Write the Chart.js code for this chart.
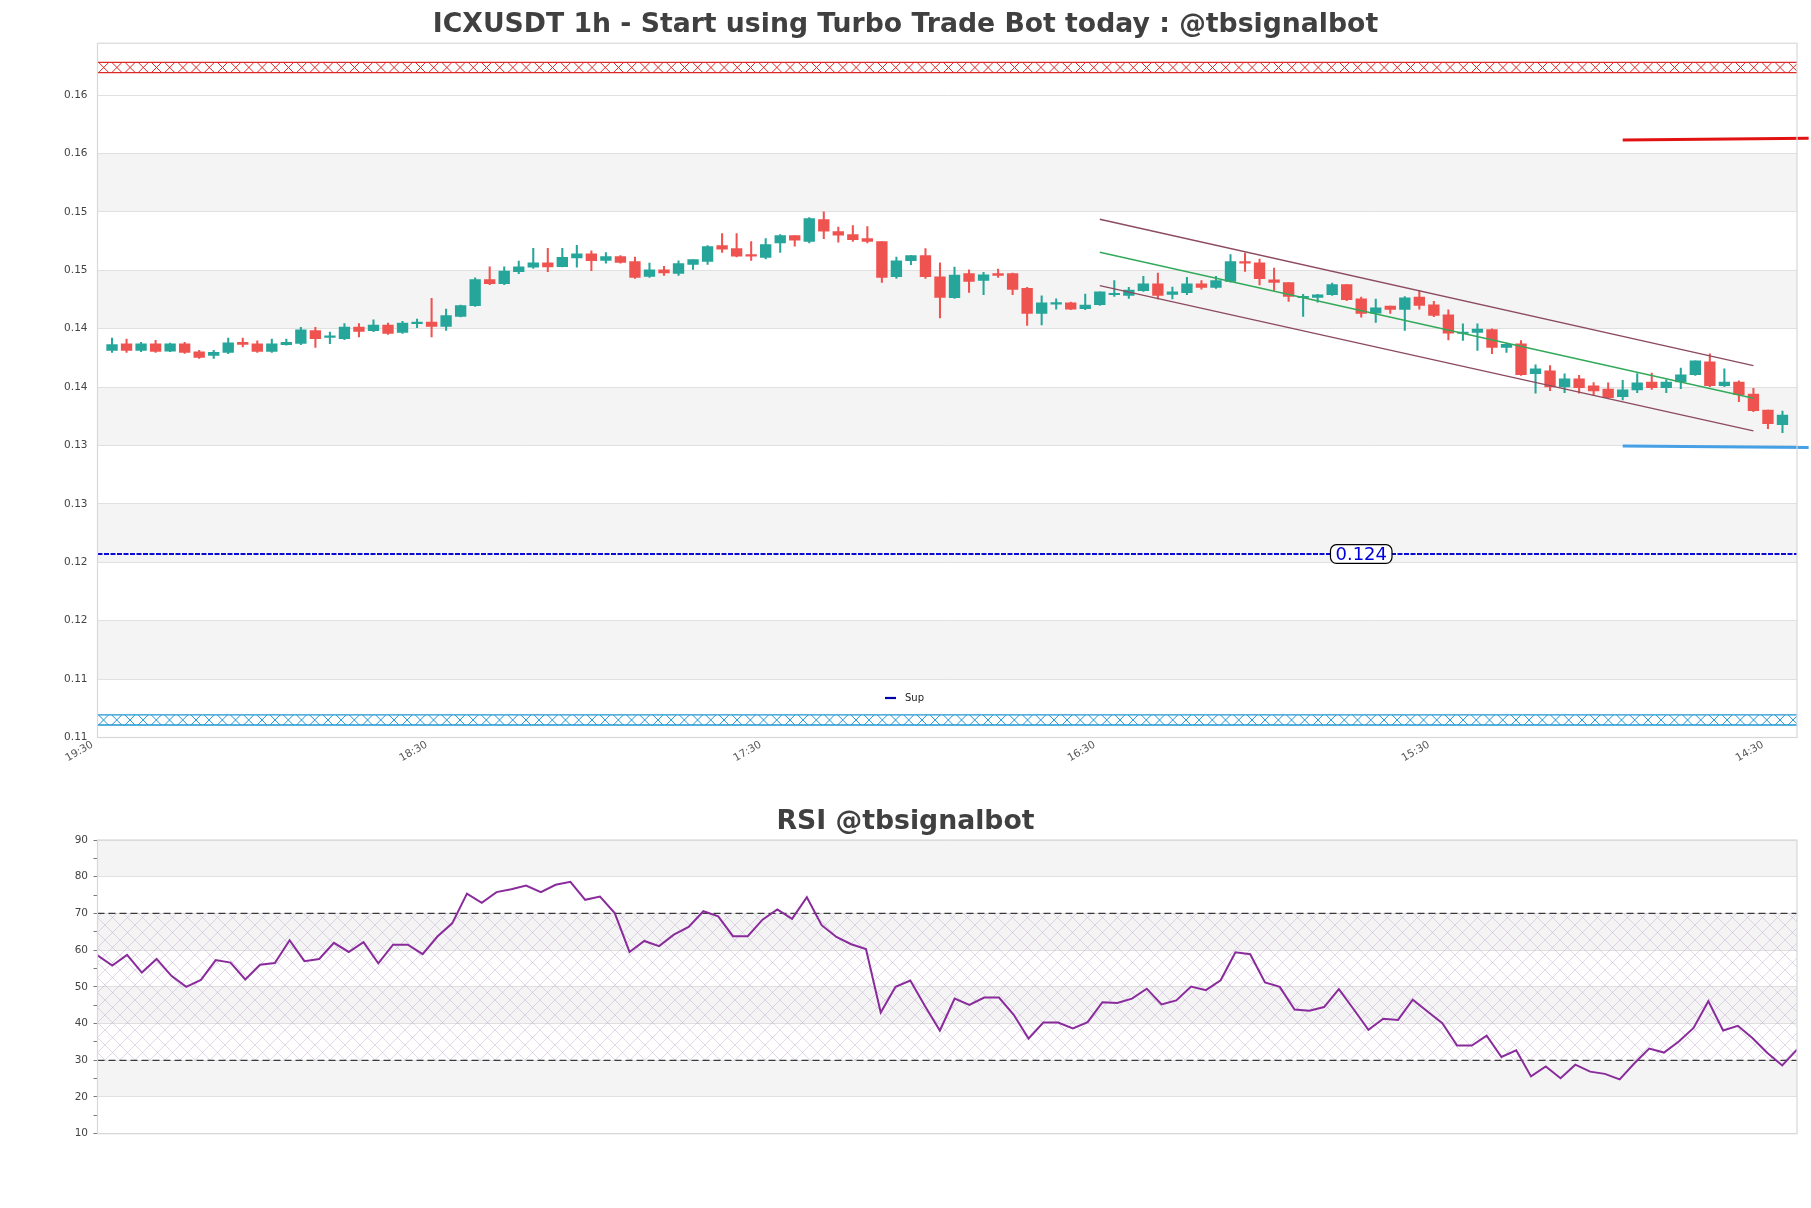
<!DOCTYPE html>
<html><head><meta charset="utf-8">
<script src="https://cdn.jsdelivr.net/npm/chart.js@4.4.0/dist/chart.umd.min.js"></script>
<style>
html,body{margin:0;padding:0;background:#fff;}
#w1{position:absolute;left:0;top:0;width:1811px;height:790px;}
#w2{position:absolute;left:0;top:790px;width:1811px;height:418px;}
</style></head><body>
<div id="w1"><canvas id="c1"></canvas></div>
<div id="w2"><canvas id="c2"></canvas></div>
<script>
// ---------- DATA ----------
const timeLabels = ['19:30','18:30','17:30','16:30','15:30','14:30'];
const timeTickPos = [-1, 22, 45, 68, 91, 114];
const priceTicks = [0.108,0.113,0.118,0.123,0.128,0.133,0.138,0.143,0.148,0.153,0.158,0.163];
const priceTickLabels = ['0.11','0.11','0.12','0.12','0.13','0.13','0.14','0.14','0.15','0.15','0.16','0.16'];
const priceRange = [0.108, 0.16744];
const xRange = [-1, 116];

const open = [0.14114,0.14171,0.14114,0.14171,0.14108,0.14171,0.14103,0.14071,0.14097,0.14183,
0.14171,0.14106,0.14163,0.14174,0.14283,0.14226,0.14214,0.14314,0.14283,0.14331,
0.14269,0.14343,0.14357,0.14320,0.14406,0.14497,0.14720,0.14686,0.14789,0.14826,
0.14863,0.14831,0.14906,0.14940,0.14885,0.14917,0.14874,0.14748,0.14805,0.14774,
0.14851,0.14877,0.15011,0.14985,0.14934,0.14911,0.15034,0.15097,0.15048,0.15234,
0.15131,0.15106,0.15071,0.15045,0.14745,0.14882,0.14925,0.14745,0.14565,0.14771,
0.14714,0.14771,0.14771,0.14645,0.14431,0.14511,0.14522,0.14471,0.14505,0.14591,
0.14585,0.14625,0.14685,0.14594,0.14608,0.14685,0.14654,0.14705,0.14874,0.14865,
0.14719,0.14694,0.14565,0.14568,0.14591,0.14677,0.14556,0.14433,0.14493,0.14465,
0.14571,0.14505,0.14419,0.14259,0.14268,0.14293,0.14139,0.14170,0.13916,0.13939,
0.13801,0.13870,0.13810,0.13784,0.13718,0.13776,0.13844,0.13796,0.13844,0.13907,
0.14016,0.13813,0.13844,0.13741,0.13604,0.13478];
const high = [0.14220,0.14211,0.14183,0.14200,0.14177,0.14183,0.14114,0.14114,0.14220,0.14220,
0.14197,0.14211,0.14211,0.14311,0.14311,0.14271,0.14343,0.14343,0.14377,0.14349,
0.14363,0.14383,0.14560,0.14469,0.14503,0.14735,0.14829,0.14829,0.14880,0.14989,
0.14989,0.14989,0.15014,0.14966,0.14951,0.14926,0.14914,0.14862,0.14834,0.14882,
0.14891,0.15011,0.15114,0.15114,0.15045,0.15071,0.15106,0.15097,0.15251,0.15300,
0.15171,0.15183,0.15174,0.15045,0.14914,0.14925,0.14985,0.14865,0.14828,0.14805,
0.14782,0.14811,0.14777,0.14654,0.14582,0.14556,0.14528,0.14596,0.14616,0.14711,
0.14654,0.14748,0.14777,0.14657,0.14739,0.14711,0.14748,0.14934,0.14948,0.14897,
0.14820,0.14694,0.14594,0.14594,0.14691,0.14677,0.14571,0.14554,0.14493,0.14576,
0.14628,0.14534,0.14462,0.14342,0.14342,0.14299,0.14176,0.14199,0.13990,0.13984,
0.13913,0.13901,0.13839,0.13836,0.13859,0.13916,0.13919,0.13862,0.13962,0.14024,
0.14085,0.13956,0.13853,0.13790,0.13604,0.13595];
const low = [0.14097,0.14097,0.14103,0.14097,0.14103,0.14088,0.14046,0.14046,0.14086,0.14143,
0.14097,0.14097,0.14160,0.14163,0.14140,0.14171,0.14206,0.14229,0.14274,0.14251,
0.14260,0.14309,0.14229,0.14286,0.14400,0.14491,0.14677,0.14677,0.14771,0.14817,
0.14789,0.14829,0.14826,0.14797,0.14862,0.14862,0.14731,0.14739,0.14757,0.14757,
0.14808,0.14851,0.14954,0.14914,0.14885,0.14897,0.14954,0.15006,0.15034,0.15071,
0.15040,0.15048,0.15034,0.14697,0.14731,0.14848,0.14731,0.14393,0.14559,0.14611,
0.14591,0.14739,0.14591,0.14328,0.14333,0.14468,0.14462,0.14462,0.14499,0.14576,
0.14559,0.14619,0.14556,0.14556,0.14591,0.14639,0.14645,0.14699,0.14791,0.14674,
0.14628,0.14534,0.14405,0.14528,0.14585,0.14539,0.14399,0.14353,0.14431,0.14285,
0.14468,0.14402,0.14205,0.14199,0.14113,0.14087,0.14096,0.13899,0.13747,0.13770,
0.13753,0.13747,0.13727,0.13701,0.13690,0.13753,0.13781,0.13753,0.13787,0.13901,
0.13804,0.13804,0.13676,0.13590,0.13444,0.13410];
const close = [0.14163,0.14114,0.14171,0.14106,0.14171,0.14097,0.14054,0.14097,0.14180,0.14166,
0.14106,0.14171,0.14183,0.14291,0.14214,0.14234,0.14314,0.14277,0.14331,0.14260,
0.14349,0.14351,0.14320,0.14412,0.14497,0.14720,0.14686,0.14794,0.14829,0.14863,
0.14829,0.14911,0.14940,0.14883,0.14917,0.14868,0.14739,0.14805,0.14777,0.14857,
0.14891,0.15003,0.14980,0.14920,0.14920,0.15020,0.15097,0.15057,0.15243,0.15134,
0.15100,0.15063,0.15048,0.14739,0.14882,0.14925,0.14745,0.14568,0.14759,0.14705,
0.14762,0.14757,0.14636,0.14431,0.14522,0.14522,0.14468,0.14502,0.14616,0.14602,
0.14631,0.14685,0.14585,0.14616,0.14685,0.14654,0.14711,0.14874,0.14862,0.14728,
0.14697,0.14576,0.14576,0.14591,0.14677,0.14548,0.14431,0.14479,0.14465,0.14565,
0.14499,0.14413,0.14262,0.14268,0.14296,0.14139,0.14167,0.13907,0.13956,0.13801,
0.13870,0.13796,0.13767,0.13710,0.13776,0.13836,0.13796,0.13844,0.13904,0.14024,
0.13813,0.13844,0.13736,0.13598,0.13487,0.13561];

const supLevel = 0.12371;
const supLabelAt = 86;
const resZone = [0.16492, 0.16581];
const supZone = [0.10907, 0.10993];
const trendX = [68, 113];
const channelUpper = [0.15237, 0.13984];
const channelMid = [0.14955, 0.13705];
const channelLower = [0.14669, 0.13425];
const resLineX = [104, 116.8];
const resLineY = [0.15916, 0.15931];
const supLineX = [104, 116.8];
const supLineY = [0.13296, 0.13283];

const rsi = [58.6,55.8,58.7,53.9,57.6,53.0,50.0,51.9,57.3,56.6,
52.0,56.0,56.5,62.7,57.0,57.6,62.0,59.5,62.2,56.4,
61.5,61.5,58.9,63.7,67.3,75.4,72.9,75.8,76.6,77.6,
75.8,77.8,78.6,73.7,74.6,70.1,59.5,62.5,61.1,64.2,
66.3,70.6,69.2,63.8,63.8,68.3,71.1,68.5,74.4,66.8,
63.6,61.6,60.3,43.0,50.0,51.7,44.7,38.1,46.8,45.1,
47.1,47.1,42.4,35.9,40.3,40.3,38.7,40.4,45.8,45.6,
46.8,49.5,45.2,46.3,50.1,49.1,51.8,59.4,58.9,51.2,
50.0,43.8,43.5,44.5,49.4,43.9,38.3,41.3,41.0,46.5,
43.3,40.1,34.0,34.0,36.7,30.9,32.7,25.6,28.3,25.1,
28.8,26.9,26.3,24.8,29.2,33.2,32.1,35.1,38.8,46.1,
38.1,39.4,36.0,32.0,28.6,32.9];
const rsiLevels = [70, 30];
const rsiTicks = [10,15,20,25,30,35,40,45,50,55,60,65,70,75,80,85,90];
const rsiGrid = [10,20,30,40,50,60,70,80,90];
const rsiRange = [10, 90];

// ---------- STYLE ----------
Chart.defaults.font.family = "'DejaVu Sans', sans-serif";
Chart.defaults.animation = false;
const UP = 'rgb(38,166,154)', DOWN = 'rgb(239,83,80)';
const GRID = 'rgb(224,224,224)', BAND = '#f4f4f4', FRAME = '#d8d8d8';
const candleColors = close.map((c, i) => c >= open[i] ? UP : DOWN);

function fillBands(chart, ticks) {
  const {ctx, chartArea: a, scales: {y}} = chart;
  ctx.save(); ctx.fillStyle = BAND;
  for (let k = 1; k < ticks.length - 1; k += 2) {
    const y0 = y.getPixelForValue(ticks[k]), y1 = y.getPixelForValue(ticks[k + 1]);
    ctx.fillRect(a.left, y1, a.right - a.left, y0 - y1);
  }
  ctx.restore();
}
function frame(chart) {
  const {ctx, chartArea: a} = chart;
  ctx.save(); ctx.strokeStyle = FRAME; ctx.lineWidth = 1.2;
  ctx.strokeRect(a.left, a.top, a.right - a.left, a.bottom - a.top);
  ctx.restore();
}
function xHatch(ctx, left, right, yTop, yBot, color) {
  const h = yBot - yTop, period = 13.2;
  ctx.save();
  ctx.beginPath(); ctx.rect(left, yTop, right - left, h); ctx.clip();
  ctx.strokeStyle = color; ctx.lineWidth = 1;
  ctx.beginPath();
  for (let x = left + 1; x < right + h; x += period) {
    ctx.moveTo(x, yTop); ctx.lineTo(x + h, yBot);
    ctx.moveTo(x + h, yTop); ctx.lineTo(x, yBot);
  }
  ctx.stroke();
  ctx.restore();
  ctx.save(); ctx.strokeStyle = color; ctx.lineWidth = 1.3;
  ctx.beginPath();
  ctx.moveTo(left, yTop); ctx.lineTo(right, yTop);
  ctx.moveTo(left, yBot); ctx.lineTo(right, yBot);
  ctx.stroke(); ctx.restore();
}
// empty right-hand spacer axis so the title stays centred on the whole canvas
const spacer = (min, max) => ({position: 'right', min, max, display: true,
  grid: {display: false, drawTicks: false}, border: {display: false},
  ticks: {display: false}, afterFit: s => { s.width = 14; }});

const pricePlugin = {
  id: 'priceDecor',
  beforeDraw(chart) { fillBands(chart, priceTicks); },
  beforeDatasetsDraw(chart) {
    const {ctx, chartArea: a, scales: {y}} = chart;
    xHatch(ctx, a.left, a.right, y.getPixelForValue(resZone[1]), y.getPixelForValue(resZone[0]), 'rgb(222,40,40)');
    xHatch(ctx, a.left, a.right, y.getPixelForValue(supZone[1]), y.getPixelForValue(supZone[0]), 'rgb(30,150,210)');
  },
  afterDatasetsDraw(chart) {
    const {ctx, scales: {x, y}} = chart;
    const cx = x.getPixelForValue(supLabelAt), cy = y.getPixelForValue(supLevel);
    const txt = supLevel.toFixed(3);
    ctx.save();
    ctx.font = "18px 'DejaVu Sans'";
    const w = ctx.measureText(txt).width + 10, h = 18.6;
    ctx.beginPath();
    ctx.roundRect(cx - w / 2, cy - h / 2, w, h, 6);
    ctx.fillStyle = '#fff'; ctx.fill();
    ctx.strokeStyle = '#000'; ctx.lineWidth = 1.2; ctx.stroke();
    ctx.fillStyle = 'rgb(0,0,220)'; ctx.textAlign = 'center'; ctx.textBaseline = 'middle';
    ctx.fillText(txt, cx, cy + 1);
    const lx = chart.width / 2 - 20.5, ly = 698;
    ctx.strokeStyle = 'rgb(0,0,170)'; ctx.lineWidth = 2.2;
    ctx.beginPath(); ctx.moveTo(lx, ly); ctx.lineTo(lx + 11, ly); ctx.stroke();
    ctx.font = "10px 'DejaVu Sans'"; ctx.fillStyle = '#222'; ctx.textAlign = 'left';
    ctx.fillText('Sup', lx + 20, ly);
    ctx.restore();
  },
  afterDraw(chart) { frame(chart); }
};

const pt = (xs, ys) => xs.map((v, i) => ({x: v, y: ys[i]}));

new Chart(document.getElementById('c1'), {
  type: 'bar',
  data: {
    datasets: [
      {type: 'line', label: 'Res', data: pt(resLineX, resLineY), borderColor: 'rgb(226,18,18)', borderWidth: 3, pointRadius: 0, clip: false, order: 0},
      {type: 'line', label: 'Sup2', data: pt(supLineX, supLineY), borderColor: 'rgb(70,160,230)', borderWidth: 3, pointRadius: 0, clip: false, order: 0},
      {type: 'line', label: 'Up', data: pt(trendX, channelUpper), borderColor: 'rgb(140,75,95)', borderWidth: 1.4, pointRadius: 0, order: 1},
      {type: 'line', label: 'Mid', data: pt(trendX, channelMid), borderColor: 'rgb(50,170,90)', borderWidth: 1.4, pointRadius: 0, order: 1},
      {type: 'line', label: 'Low', data: pt(trendX, channelLower), borderColor: 'rgb(140,75,95)', borderWidth: 1.4, pointRadius: 0, order: 1},
      {type: 'line', label: 'Sup', data: pt(xRange, [supLevel, supLevel]), borderColor: 'rgb(10,10,215)', borderWidth: 2, borderDash: [5, 1.5], pointRadius: 0, order: 2},
      {label: 'body', data: open.map((o, i) => ({x: i, y: [o, close[i]]})), backgroundColor: candleColors, barThickness: 10.7, minBarLength: 1.5, grouped: false, order: 3},
      {label: 'wick', data: low.map((l, i) => ({x: i, y: [l, high[i]]})), backgroundColor: candleColors, barThickness: 1.4, grouped: false, order: 4}
    ]
  },
  options: {
    responsive: true, maintainAspectRatio: false, devicePixelRatio: 1, animation: false,
    layout: {padding: {left: 0, right: 0, top: 0, bottom: 2.5}},
    plugins: {
      legend: {display: false}, tooltip: {enabled: false},
      title: {display: true, text: 'ICXUSDT 1h - Start using Turbo Trade Bot today : @tbsignalbot',
        color: '#404040', font: {size: 26.7, weight: 'bold', family: "'DejaVu Sans'"}, padding: {top: 9, bottom: 2.2}}
    },
    scales: {
      x: {type: 'linear', min: xRange[0], max: xRange[1], offset: false,
        grid: {display: false, offset: false}, border: {display: false},
        afterBuildTicks: s => { s.ticks = timeTickPos.map(v => ({value: v})); },
        afterFit: s => { s.height = 50; },
        ticks: {autoSkip: false, minRotation: 30, maxRotation: 30, padding: -7, labelOffset: -5, color: '#555',
          font: {size: 10.5}, callback: (v, i) => timeLabels[i]}
      },
      y: {type: 'linear', min: priceRange[0], max: priceRange[1],
        grid: {color: GRID, drawTicks: false, lineWidth: 1}, border: {display: false},
        afterBuildTicks: s => { s.ticks = priceTicks.map(v => ({value: v})); },
        afterFit: s => { s.width = 97.5; },
        ticks: {padding: 10, color: '#444', font: {size: 10.5}, callback: (v, i) => priceTickLabels[i]}
      },
      yR: spacer(priceRange[0], priceRange[1])
    }
  },
  plugins: [pricePlugin]
});

// ---------- RSI ----------
const pc = document.createElement('canvas'); pc.width = 15; pc.height = 15;
const pg = pc.getContext('2d');
pg.strokeStyle = 'rgba(175,145,195,0.45)'; pg.lineWidth = 0.8;
pg.beginPath(); pg.moveTo(0, 0); pg.lineTo(15, 15); pg.moveTo(15, 0); pg.lineTo(0, 15); pg.stroke();

const rsiPlugin = {
  id: 'rsiDecor',
  beforeDraw(chart) { fillBands(chart, rsiGrid); },
  beforeDatasetsDraw(chart) {
    const {ctx, chartArea: a, scales: {y}} = chart;
    const y0 = y.getPixelForValue(rsiLevels[0]), y1 = y.getPixelForValue(rsiLevels[1]);
    ctx.save();
    ctx.fillStyle = ctx.createPattern(pc, 'repeat');
    ctx.fillRect(a.left, y0, a.right - a.left, y1 - y0);
    ctx.restore();
  },
  afterDraw(chart) { frame(chart); }
};

new Chart(document.getElementById('c2'), {
  type: 'line',
  data: {
    datasets: [
      {label: 'RSI', data: rsi.map((v, i) => ({x: i, y: v})), borderColor: 'rgb(138,43,156)', borderWidth: 2, pointRadius: 0, order: 0},
      {label: 'OB', data: pt([0, rsi.length - 1], [rsiLevels[0], rsiLevels[0]]), borderColor: '#3a3a3a', borderWidth: 1.3, borderDash: [7, 4], pointRadius: 0, order: 1},
      {label: 'OS', data: pt([0, rsi.length - 1], [rsiLevels[1], rsiLevels[1]]), borderColor: '#3a3a3a', borderWidth: 1.3, borderDash: [7, 4], pointRadius: 0, order: 1}
    ]
  },
  options: {
    responsive: true, maintainAspectRatio: false, devicePixelRatio: 1, animation: false,
    layout: {padding: {left: 0, right: 0, top: 0, bottom: 74.3}},
    plugins: {
      legend: {display: false}, tooltip: {enabled: false},
      title: {display: true, text: 'RSI @tbsignalbot', color: '#404040',
        font: {size: 26.7, weight: 'bold', family: "'DejaVu Sans'"}, padding: {top: 16.5, bottom: 1.46}}
    },
    scales: {
      x: {type: 'linear', min: 0, max: rsi.length - 1, display: false},
      y: {type: 'linear', min: rsiRange[0], max: rsiRange[1],
        grid: {color: c => (c.tick && c.tick.value % 10 === 0) ? GRID : 'rgba(0,0,0,0)', tickColor: '#777', tickLength: 4, drawTicks: true},
        border: {display: false},
        afterBuildTicks: s => { s.ticks = rsiTicks.map(v => ({value: v})); },
        afterFit: s => { s.width = 97.5; },
        ticks: {padding: 5.5, color: '#444', font: {size: 10.5}, autoSkip: false,
          callback: v => (v % 10 === 0 ? String(v) : '')}
      },
      yR: spacer(rsiRange[0], rsiRange[1])
    }
  },
  plugins: [rsiPlugin]
});
</script>
</body></html>
